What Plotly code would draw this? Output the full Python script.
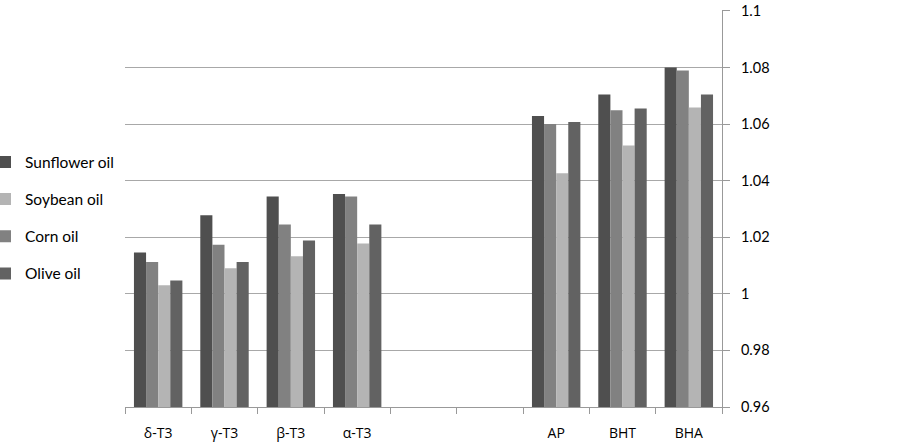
import plotly.graph_objects as go

categories = ["δ-T3", "γ-T3", "β-T3", "α-T3", "AP", "BHT", "BHA"]
axis_categories = ["δ-T3", "γ-T3", "β-T3", "α-T3", " ", "  ", "AP", "BHT", "BHA"]

sunflower = [1.0146, 1.0278, 1.0344, 1.0353, 1.0628, 1.0704, 1.0800]
corn = [1.0112, 1.0173, 1.0245, 1.0344, 1.0600, 1.0649, 1.0789]
soybean = [1.0030, 1.0090, 1.0133, 1.0178, 1.0426, 1.0524, 1.0658]
olive = [1.0047, 1.0112, 1.0188, 1.0245, 1.0607, 1.0655, 1.0704]

y_ticks = [0.96, 0.98, 1.0, 1.02, 1.04, 1.06, 1.08, 1.1]
y_ticktext = ["0.96", "0.98", "1", "1.02", "1.04", "1.06", "1.08", "1.1"]

series = [
    ("Sunflower oil", sunflower, "#4f4f4f", 1),
    ("Corn oil", corn, "#818181", 3),
    ("Soybean oil", soybean, "#b4b4b4", 2),
    ("Olive oil", olive, "#626262", 4),
]

fig = go.Figure()
for name, vals, color, rank in series:
    fig.add_trace(go.Bar(
        x=categories, y=vals, name=name,
        marker=dict(color=color, line=dict(width=0)),
        legendrank=rank, legendgroup=name,
    ))

font_family = "Lato, 'Open Sans', sans-serif"
fig.update_layout(
    width=902, height=442,
    margin=dict(l=125, r=180, t=10, b=35, autoexpand=False),
    paper_bgcolor="white", plot_bgcolor="white",
    barmode="group", bargap=0.27, bargroupgap=0,
    font=dict(family=font_family, size=14, color="black"),
    showlegend=True,
    legend=dict(
        xref="paper", yref="paper",
        x=-0.2345, y=0.659, xanchor="left", yanchor="top",
        font=dict(size=15.5, color="black"),
        tracegroupgap=14, itemwidth=30,
        bgcolor="rgba(0,0,0,0)",
    ),
    xaxis=dict(
        type="category", categoryorder="array", categoryarray=axis_categories,
        range=[-0.5, 8.5], automargin=False,
        tickson="boundaries", ticks="outside", ticklen=6, tickcolor="#999999",
        ticklabelstandoff=13,
        showline=True, linecolor="#999999", linewidth=1,
        showgrid=False, tickfont=dict(size=14, family="'Open Sans', sans-serif"),
        fixedrange=True,
    ),
    yaxis=dict(
        side="right", range=[0.96, 1.1003], automargin=False,
        tickvals=y_ticks, ticktext=y_ticktext,
        ticks="outside", ticklen=7, tickcolor="#999999",
        ticklabelstandoff=8,
        showline=True, linecolor="#999999", linewidth=1,
        showgrid=True, gridcolor="#a8a8a8", gridwidth=1,
        zeroline=False, tickfont=dict(size=14.5), fixedrange=True,
    ),
)

fig.write_html(
    "out.html",
    config={"displayModeBar": False},
    post_script="document.body.style.margin='0';document.body.style.padding='0';",
)
